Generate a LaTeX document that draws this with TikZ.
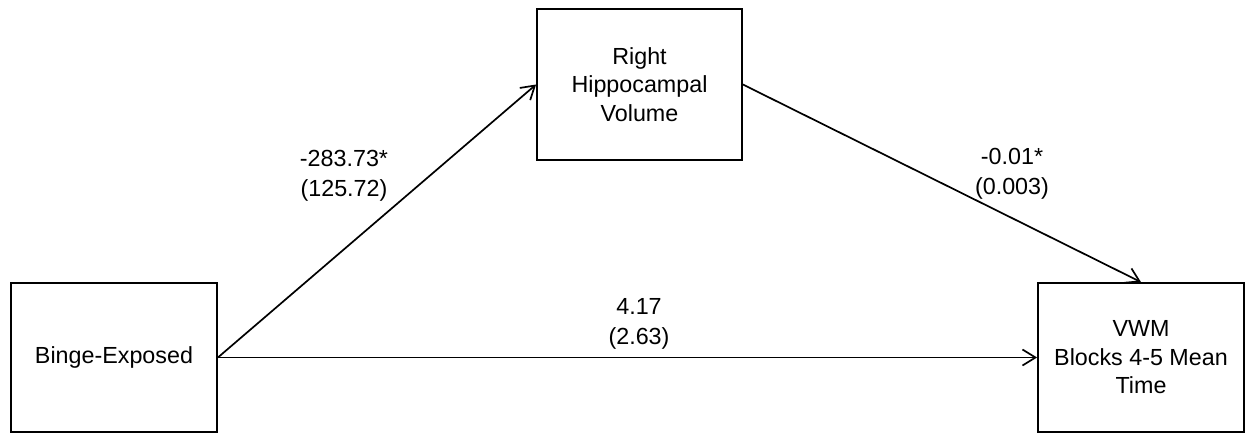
\documentclass[tikz,border=0pt]{standalone}
\usepackage{fontspec}
\setmainfont{Liberation Sans}
\usetikzlibrary{arrows.meta}
\begin{document}
\begin{tikzpicture}[x=1pt,y=-1pt,
  varbox/.style={draw,line width=1.8pt,align=center,inner sep=0pt,
    font=\fontsize{23.3}{28.5}\selectfont},
  lbl/.style={align=center,inner sep=0pt,font=\fontsize{23.3}{29.5}\selectfont},
  path/.style={line width=1.7pt,-{Straight Barb[length=13pt,width=16pt,line width=1.7pt]}}]
\useasboundingbox (0,0) rectangle (1248,434);
\node[varbox,minimum width=206pt,minimum height=149pt] (x) at (114,357.5) {Binge-Exposed};
\node[varbox,minimum width=205pt,minimum height=151pt] (m) at (639.5,84.5) {Right\\Hippocampal\\Volume};
\node[varbox,minimum width=206pt,minimum height=149pt] (y) at (1141,357.5) {VWM\\Blocks 4-5 Mean\\Time};
\draw[path] (x.east) -- (m.west);
\draw[path] (m.east) -- (y.north);
\draw[path] (x.east) -- (y.west);
\node[lbl] (a) at (344,176) {-283.73*\\(125.72)};
\node[lbl] (b) at (1012,174) {-0.01*\\(0.003)};
\node[lbl] (c) at (639,324) {4.17\\(2.63)};
\end{tikzpicture}
\end{document}
